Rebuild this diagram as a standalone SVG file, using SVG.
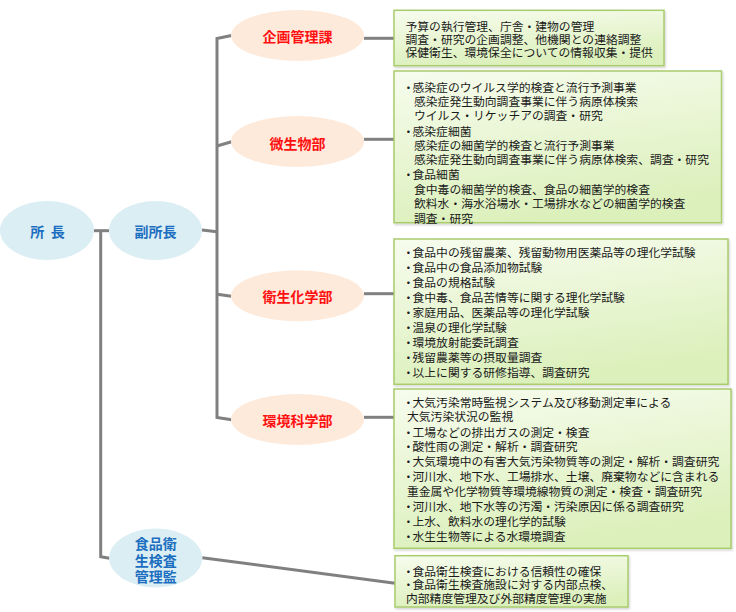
<svg xmlns="http://www.w3.org/2000/svg" width="736" height="612" viewBox="0 0 736 612">
<defs>
<linearGradient id="bg" x1="0" y1="0" x2="0.3" y2="1">
<stop offset="0" stop-color="#F7FCEE"/>
<stop offset="1" stop-color="#DCF0BC"/>
</linearGradient>
<filter id="sh" x="-5%" y="-5%" width="110%" height="115%">
<feDropShadow dx="1" dy="1.5" stdDeviation="0.8" flood-color="#000" flood-opacity="0.18"/>
</filter>
<style>
text{font-family:"Noto Sans CJK JP","Noto Sans CJK SC",sans-serif;dominant-baseline:central}
.box{fill:url(#bg);stroke:#A9CC6E;stroke-width:1.5;filter:url(#sh)}
.bt{font-size:11.8px;fill:#1A1A1A}
.dept{fill:#FDEADB}
.exec{fill:#DBEEF4}
.dt{font-size:14px;font-weight:bold;fill:#FF1010;text-anchor:middle}
.et{font-size:14px;font-weight:bold;fill:#1C6EC0;text-anchor:middle}
.con{fill:none;stroke:#808080;stroke-width:3}
</style>
</defs>

<g id="connectors">
<path class="con" d="M94,230.7 H109"/>
<path class="con" d="M100.7,230.7 V556.7 L109.5,558.3"/>
<path class="con" d="M202,230 L217,231.7"/>
<path class="con" d="M231.5,35.5 L217,38.5 V417.5 L231.5,419.8"/>
<path class="con" d="M217,146 L231.5,141.7"/>
<path class="con" d="M217,294.3 L231.5,296.3"/>
<path class="con" d="M364,38.3 H394"/>
<path class="con" d="M364,139.3 H394"/>
<path class="con" d="M364,293.7 H394"/>
<path class="con" d="M364,417.3 H394"/>
<path class="con" d="M202.3,557.7 L395,583.3"/>
</g>

<g id="director">
<ellipse class="exec" cx="47" cy="230.5" rx="47" ry="29.5"/>
<text class="et" x="47.5" y="230.7" xml:space="preserve">所  長</text>
</g>
<g id="vice-director">
<ellipse class="exec" cx="155.5" cy="230.5" rx="46.5" ry="29.5"/>
<text class="et" x="155.5" y="230.7">副所長</text>
</g>
<g id="food-inspector">
<ellipse class="exec" cx="155.7" cy="558" rx="46.5" ry="29.5"/>
<text class="et" x="155.7" y="542.7">食品衛</text>
<text class="et" x="155.7" y="559.5">生検査</text>
<text class="et" x="155.7" y="575.5">管理監</text>
</g>

<g id="planning">
<ellipse class="dept" cx="297.5" cy="35.5" rx="66.5" ry="25.5"/>
<text class="dt" x="297.5" y="36">企画管理課</text>
</g>
<g id="microbiology">
<ellipse class="dept" cx="297.5" cy="141.5" rx="66.5" ry="25.5"/>
<text class="dt" x="297.5" y="142.5">微生物部</text>
</g>
<g id="hygiene-chem">
<ellipse class="dept" cx="297.5" cy="295.7" rx="66.5" ry="25.5"/>
<text class="dt" x="297.5" y="296">衛生化学部</text>
</g>
<g id="env-science">
<ellipse class="dept" cx="297.5" cy="419.5" rx="66.5" ry="25.5"/>
<text class="dt" x="297.5" y="419.5">環境科学部</text>
</g>

<g id="box-planning">
<rect class="box" x="394" y="10.3" width="270" height="55.4"/>
<text class="bt" x="405.5" y="25">予算の執行管理、庁舎・建物の管理</text>
<text class="bt" x="405.5" y="38.4">調査・研究の企画調整、他機関との連絡調整</text>
<text class="bt" x="405.5" y="51.8">保健衛生、環境保全についての情報収集・提供</text>
</g>

<g id="box-microbiology">
<rect class="box" x="394" y="71" width="327.5" height="151.7"/>
<text class="bt" y="85.5"><tspan x="402.5">・</tspan><tspan x="412.5">感染症のウイルス学的検査と流行予測事業</tspan></text>
<text class="bt" x="414" y="100.2">感染症発生動向調査事業に伴う病原体検索</text>
<text class="bt" x="414" y="114.8">ウイルス・リケッチアの調査・研究</text>
<text class="bt" y="129.5"><tspan x="402.5">・</tspan><tspan x="412.5">感染症細菌</tspan></text>
<text class="bt" x="414" y="144.1">感染症の細菌学的検査と流行予測事業</text>
<text class="bt" x="414" y="158.8">感染症発生動向調査事業に伴う病原体検索、調査・研究</text>
<text class="bt" y="173.4"><tspan x="402.5">・</tspan><tspan x="412.5">食品細菌</tspan></text>
<text class="bt" x="414" y="188.1">食中毒の細菌学的検査、食品の細菌学的検査</text>
<text class="bt" x="414" y="202.7">飲料水・海水浴場水・工場排水などの細菌学的検査</text>
<text class="bt" x="414" y="217.4">調査・研究</text>
</g>

<g id="box-hygiene-chem">
<rect class="box" x="394" y="239" width="334" height="145.3"/>
<text class="bt" y="250.7"><tspan x="402.5">・</tspan><tspan x="412.5">食品中の残留農薬、残留動物用医薬品等の理化学試験</tspan></text>
<text class="bt" y="265.7"><tspan x="402.5">・</tspan><tspan x="412.5">食品中の食品添加物試験</tspan></text>
<text class="bt" y="280.8"><tspan x="402.5">・</tspan><tspan x="412.5">食品の規格試験</tspan></text>
<text class="bt" y="295.8"><tspan x="402.5">・</tspan><tspan x="412.5">食中毒、食品苦情等に関する理化学試験</tspan></text>
<text class="bt" y="310.9"><tspan x="402.5">・</tspan><tspan x="412.5">家庭用品、医薬品等の理化学試験</tspan></text>
<text class="bt" y="325.9"><tspan x="402.5">・</tspan><tspan x="412.5">温泉の理化学試験</tspan></text>
<text class="bt" y="341"><tspan x="402.5">・</tspan><tspan x="412.5">環境放射能委託調査</tspan></text>
<text class="bt" y="356"><tspan x="402.5">・</tspan><tspan x="412.5">残留農薬等の摂取量調査</tspan></text>
<text class="bt" y="371"><tspan x="402.5">・</tspan><tspan x="412.5">以上に関する研修指導、調査研究</tspan></text>
</g>

<g id="box-env-science">
<rect class="box" x="394" y="389" width="337" height="159.3"/>
<text class="bt" y="400.7"><tspan x="402.5">・</tspan><tspan x="412.5">大気汚染常時監視システム及び移動測定車による</tspan></text>
<text class="bt" x="407" y="415.6">大気汚染状況の監視</text>
<text class="bt" y="430.5"><tspan x="402.5">・</tspan><tspan x="412.5">工場などの排出ガスの測定・検査</tspan></text>
<text class="bt" y="445.4"><tspan x="402.5">・</tspan><tspan x="412.5">酸性雨の測定・解析・調査研究</tspan></text>
<text class="bt" y="460.3"><tspan x="402.5">・</tspan><tspan x="412.5">大気環境中の有害大気汚染物質等の測定・解析・調査研究</tspan></text>
<text class="bt" y="475.2"><tspan x="402.5">・</tspan><tspan x="412.5">河川水、地下水、工場排水、土壌、廃棄物などに含まれる</tspan></text>
<text class="bt" x="407" y="490.1">重金属や化学物質等環境線物質の測定・検査・調査研究</text>
<text class="bt" y="505"><tspan x="402.5">・</tspan><tspan x="412.5">河川水、地下水等の汚濁・汚染原因に係る調査研究</tspan></text>
<text class="bt" y="519.9"><tspan x="402.5">・</tspan><tspan x="412.5">上水、飲料水の理化学的試験</tspan></text>
<text class="bt" y="534.8"><tspan x="402.5">・</tspan><tspan x="412.5">水生生物等による水環境調査</tspan></text>
</g>

<g id="box-food-inspection">
<rect class="box" x="395" y="555.7" width="233" height="51.3"/>
<text class="bt" y="569.8"><tspan x="402.5">・</tspan><tspan x="412.5">食品衛生検査における信頼性の確保</tspan></text>
<text class="bt" y="583.4"><tspan x="402.5">・</tspan><tspan x="412.5">食品衛生検査施設に対する内部点検、</tspan></text>
<text class="bt" x="406" y="597">内部精度管理及び外部精度管理の実施</text>
</g>
</svg>
